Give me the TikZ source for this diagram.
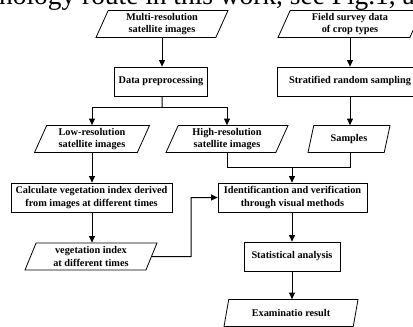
\documentclass[tikz,border=0pt]{standalone}
\usepackage{fontspec}
\setmainfont{Liberation Serif}
\usetikzlibrary{arrows.meta,shapes.geometric}
\begin{document}
\begin{tikzpicture}[x=1pt,y=-1pt,
  every node/.style={font=\fontsize{10.3}{12.5}\selectfont\bfseries, align=center, inner sep=1pt},
  box/.style={draw, line width=0.8pt, minimum height=29pt},
  para/.style={draw, line width=0.8pt, shape=trapezium, trapezium left angle=63,
    trapezium right angle=117, trapezium stretches body, minimum height=27pt},
  arr/.style={line width=1pt, -{Triangle[length=6.5pt,width=6pt]}},
  ln/.style={line width=1pt}
]
\useasboundingbox (0,0) rectangle (413,327);
\begin{scope}
\clip (0,0) rectangle (413,327);
\node[font=\fontsize{27.4}{30}\selectfont, anchor=base west, inner sep=0pt] (T) at (-1,4.5) {nology route in this work, see Fig.1, a};

\node[para, minimum width=132pt] (A) at (162,24) {Multi-resolution\\satellite images};
\node[para, minimum width=144pt] (B) at (350,24) {Field survey data\\of crop types};
\node[box, minimum width=93pt] (C) at (161,81.5) {Data preprocessing};
\node[box, minimum width=146pt] (D) at (350,81.5) {Stratified random sampling};
\node[para, minimum width=115pt] (E) at (92,139) {Low-resolution\\satellite images};
\node[para, minimum width=122pt] (F) at (227,139) {High-resolution\\satellite images};
\node[para, minimum width=82pt] (G) at (349,139) {Samples};
\node[box, minimum width=161pt] (H) at (91.5,197.5) {Calculate vegetation index derived\\from images at different times};
\node[box, minimum width=149pt] (I) at (292.5,197.5) {Identificantion and verification\\through visual methods};
\node[para, minimum width=132pt] (J) at (91,256.5) {vegetation index\\at different times};
\node[box, minimum width=96pt] (K) at (292,256.5) {Statistical analysis};
\node[para, minimum width=134pt] (L) at (291,313) {Examinatio result};

\coordinate (s) at (162,107);
\coordinate (m) at (292,167);
\coordinate (v) at (191,256.5);

\draw[arr] (A.south) -- (A.south |- C.north);
\draw[arr] (B.south) -- (B.south |- D.north);
\draw[ln] (A.south |- C.south) -- (s);
\draw[arr] (s) -| (E.north);
\draw[arr] (s) -| (F.north);
\draw[arr] (D.south) -- (D.south |- G.north);
\draw[ln] (F.south) |- (m);
\draw[ln] (D.south |- G.south) |- (m);
\draw[arr] (m) -- (m |- I.north);
\draw[arr] (E.south) -- (E.south |- H.north);
\draw[arr] (E.south |- H.south) -- (E.south |- J.north);
\draw[arr] (J.east) -- (v) |- (I.west);
\draw[arr] (m |- I.south) -- (m |- K.north);
\draw[arr] (m |- K.south) -- (m |- L.north);
\end{scope}
\end{tikzpicture}
\end{document}
